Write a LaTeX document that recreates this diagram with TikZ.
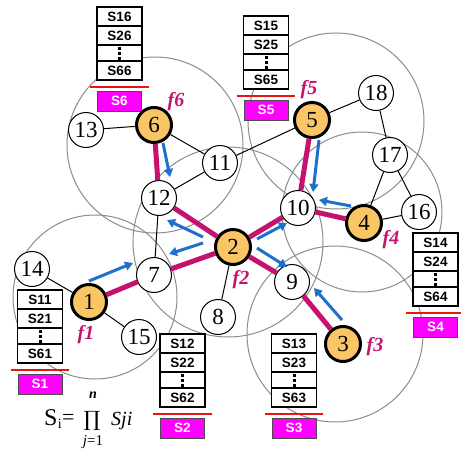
\documentclass[tikz,border=0pt]{standalone}
\usepackage{fontspec}
\setmainfont{Liberation Serif}
\newfontfamily\arialf{Liberation Sans}
\newfontfamily\dvserif{DejaVu Serif}
\usetikzlibrary{arrows.meta,calc}
\definecolor{headfill}{RGB}{249,198,102}
\definecolor{redE}{RGB}{198,18,110}
\definecolor{blueA}{RGB}{30,112,205}
\definecolor{magbox}{RGB}{255,0,255}
\definecolor{grayC}{RGB}{140,140,140}
\definecolor{redline}{RGB}{235,20,20}
\tikzset{
  nd/.style={circle, draw, line width=1pt, fill=white, minimum size=35pt, inner sep=0pt, font=\fontsize{23}{23}\selectfont},
  hd/.style={nd, fill=headfill, line width=3pt},
  gcirc/.style={draw=grayC, line width=1pt},
  thin/.style={draw=black, line width=1pt},
  thick/.style={draw=redE, line width=5pt},
  barr/.style={draw=blueA, line width=3pt, -{Triangle[length=8pt,width=9pt]}},
  cell/.style={rectangle, draw, line width=1.5pt, fill=white, minimum width=45pt, inner sep=0pt, font=\arialf\bfseries\fontsize{13.5}{14}\selectfont},
  dotsl/.style={line width=3pt, dash pattern=on 3pt off 2pt},
  redl/.style={draw=redline, line width=2.5pt},
  sbox/.style={rectangle, fill=magbox, draw=black!70, line width=0.8pt, minimum width=44pt, minimum height=20pt, inner sep=0pt, text=white, font=\arialf\bfseries\fontsize{13.5}{14}\selectfont},
  flab/.style={text=redE, font=\bfseries\itshape\fontsize{20}{20}\selectfont, inner sep=0pt}
}
\newcommand{\stab}[4]{%
  \node[cell, minimum height=19pt] (#1a) at (#2,#3+9.5) {S1#4};
  \node[cell, minimum height=19pt] (#1b) at (#2,#3+28.5) {S2#4};
  \node[cell, minimum height=16pt] (#1c) at (#2,#3+46) {};
  \node[cell, minimum height=19pt] (#1d) at (#2,#3+63.5) {S6#4};
  \draw[dotsl] ([yshift=-3pt]#1c.north) -- ++(0,13);
  \draw[redl] ([xshift=-6pt,yshift=-6pt]#1d.south west) -- ([xshift=6pt,yshift=-6pt]#1d.south east);
  \node[sbox] (#1s) at (#2,#3+94) {S#4};
}
\begin{document}
\begin{tikzpicture}[x=1pt,y=-1pt]
\useasboundingbox (0,0) rectangle (461,450);
% gray range circles
\draw[gcirc] (155,145) circle (88);
\draw[gcirc] (336,121) circle (88);
\draw[gcirc] (228,242) circle (95);
\draw[gcirc] (362,212) circle (80);
\draw[gcirc] (95,297) circle (82);
\draw[gcirc] (335,334) circle (88);
% tables
\stab{tsix}{119.5}{7}{6}
\stab{tfive}{266}{16}{5}
\stab{tone}{40}{290}{1}
\stab{ttwo}{182.5}{334}{2}
\stab{tthree}{294}{334}{3}
\stab{tfour}{435.5}{233}{4}
% nodes
\node[hd] (n1) at (89,302) {1};
\node[hd] (n2) at (233,247) {2};
\node[hd] (n3) at (343,344) {3};
\node[hd] (n4) at (364,223) {4};
\node[hd] (n5) at (312,120) {5};
\node[hd] (n6) at (154,125) {6};
\node[nd] (n7) at (154,275) {7};
\node[nd] (n8) at (218,317) {8};
\node[nd] (n9) at (292,282) {9};
\node[nd] (n10) at (298,208) {10};
\node[nd] (n11) at (220,163) {11};
\node[nd] (n12) at (159,198) {12};
\node[nd] (n13) at (86,130) {13};
\node[nd] (n14) at (32,269) {14};
\node[nd] (n15) at (139,337) {15};
\node[nd] (n16) at (419,212) {16};
\node[nd] (n17) at (390,155) {17};
\node[nd] (n18) at (376,93) {18};
% thin links
\draw[thin] (n13) -- (n6);
\draw[thin] (n6) -- (n11);
\draw[thin] (n11) -- (n12);
\draw[thin] (n12) -- (n7);
\draw[thin] (n5) -- (n11);
\draw[thin] (n5) -- (n18);
\draw[thin] (n18) -- (n17);
\draw[thin] (n17) -- (n4);
\draw[thin] (n17) -- (n16);
\draw[thin] (n4) -- (n16);
\draw[thin] (n2) -- (n8);
\draw[thin] (n1) -- (n14);
\draw[thin] (n1) -- (n15);
% thick links
\draw[thick] (n6) -- (n12);
\draw[thick] (n12) -- (n2);
\draw[thick] (n2) -- (n7);
\draw[thick] (n7) -- (n1);
\draw[thick] (n2) -- (n10);
\draw[thick] (n10) -- (n5);
\draw[thick] (n10) -- (n4);
\draw[thick] (n2) -- (n9);
\draw[thick] (n9) -- (n3);
% blue arrows
\coordinate (a1s) at (89,281);  \coordinate (a1e) at (133,263);
\coordinate (a27s) at (203,243); \coordinate (a27e) at (169,254);
\coordinate (a212s) at (203,237); \coordinate (a212e) at (167,220);
\coordinate (a210s) at (257,239); \coordinate (a210e) at (287,223);
\coordinate (a29s) at (257,248); \coordinate (a29e) at (287,267);
\coordinate (a39s) at (342,320); \coordinate (a39e) at (314,288);
\coordinate (a410s) at (351,206); \coordinate (a410e) at (319,200);
\coordinate (a510s) at (319,140); \coordinate (a510e) at (313,192);
\coordinate (a612s) at (163,143); \coordinate (a612e) at (170,177);
\draw[barr] (a1s) -- (a1e);
\draw[barr] (a27s) -- (a27e);
\draw[barr] (a212s) -- (a212e);
\draw[barr] (a210s) -- (a210e);
\draw[barr] (a29s) -- (a29e);
\draw[barr] (a39s) -- (a39e);
\draw[barr] (a410s) -- (a410e);
\draw[barr] (a510s) -- (a510e);
\draw[barr] (a612s) -- (a612e);
% f labels
\node[flab] (f6) at (176,102) {f6};
\node[flab] (f5) at (309,90) {f5};
\node[flab] (f4) at (391,240) {f4};
\node[flab] (f3) at (375,347) {f3};
\node[flab] (f2) at (241,280) {f2};
\node[flab] (f1) at (86,335) {f1};
% formula
\node[anchor=base west, inner sep=0pt, font=\fontsize{24}{24}\selectfont] (fS) at (44,425) {S};
\node[anchor=base west, inner sep=0pt, font=\fontsize{14}{14}\selectfont] (fi) at (fS.base east) [yshift=-3pt] {i};
\node[anchor=base west, inner sep=0pt, font=\fontsize{22}{22}\selectfont] (feq) at (62,424) {=};
\node[inner sep=0pt, font=\dvserif\fontsize{21}{21}\selectfont] (fprod) at (92,421) {∏};
\node[inner sep=0pt, font=\bfseries\itshape\fontsize{14}{14}\selectfont] (fn) at (93,395) {n};
\node[inner sep=0pt, font=\fontsize{15}{15}\selectfont] (fj) at (93,442) {\textit{j}=1};
\node[anchor=base west, inner sep=0pt, font=\itshape\fontsize{20}{20}\selectfont] (fsji) at (111,425) {Sji};
\end{tikzpicture}
\end{document}
